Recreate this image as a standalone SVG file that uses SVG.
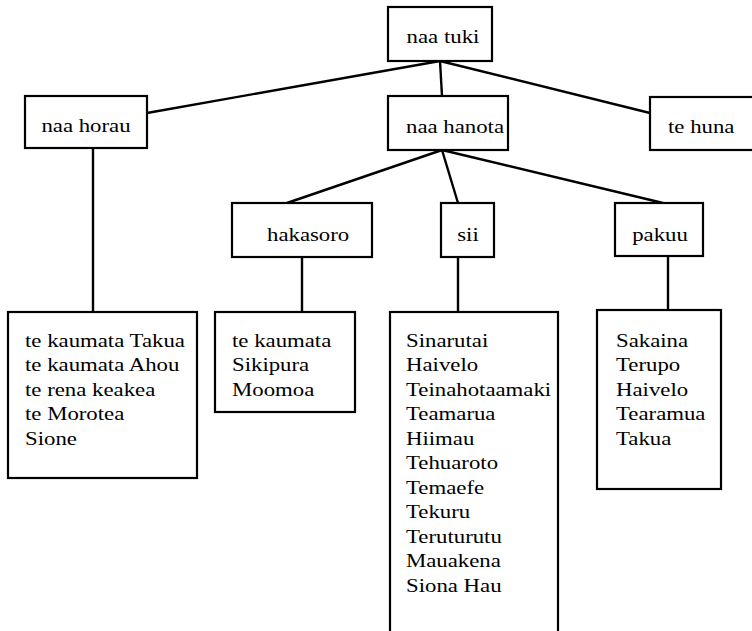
<svg xmlns="http://www.w3.org/2000/svg" width="752" height="631" viewBox="0 0 752 631">
<style>
.box{fill:#fff;stroke:#000;stroke-width:2.2}
.lbl{font-family:"Liberation Serif","Times New Roman",serif;font-size:19px;fill:#000}
.mid{text-anchor:middle}
.conn line{stroke:#000;stroke-width:2.4}
</style>
<rect width="752" height="631" fill="#fff"/>
<g class="conn" id="connectors">
<line x1="440" y1="61" x2="147" y2="113"/>
<line x1="440" y1="61" x2="442" y2="96"/>
<line x1="440" y1="61" x2="650" y2="113"/>
<line x1="93" y1="148" x2="93" y2="312"/>
<line x1="442" y1="150" x2="287" y2="203"/>
<line x1="442" y1="150" x2="458" y2="203"/>
<line x1="442" y1="150" x2="663" y2="203"/>
<line x1="302" y1="257" x2="302" y2="312"/>
<line x1="458" y1="257" x2="458" y2="312"/>
<line x1="668" y1="256" x2="668" y2="310"/>
</g>
<g id="naa-tuki"><rect class="box" x="388" y="7" width="104" height="54"/><text class="lbl mid" transform="translate(443 43) scale(1.2 1)">naa tuki</text></g>
<g id="naa-horau"><rect class="box" x="25" y="96" width="122" height="52"/><text class="lbl mid" transform="translate(86 132) scale(1.2 1)">naa horau</text></g>
<g id="naa-hanota"><rect class="box" x="388" y="96" width="120" height="54"/><text class="lbl mid" transform="translate(455 133) scale(1.2 1)">naa hanota</text></g>
<g id="te-huna"><rect class="box" x="650" y="97" width="130" height="53"/><text class="lbl" transform="translate(668 133) scale(1.2 1)">te huna</text></g>
<g id="hakasoro"><rect class="box" x="232" y="203" width="140" height="54"/><text class="lbl" transform="translate(267 241) scale(1.2 1)">hakasoro</text></g>
<g id="sii"><rect class="box" x="441" y="203" width="53" height="54"/><text class="lbl mid" transform="translate(468 241) scale(1.2 1)">sii</text></g>
<g id="pakuu"><rect class="box" x="615" y="203" width="88" height="53"/><text class="lbl mid" transform="translate(660 241) scale(1.2 1)">pakuu</text></g>
<g id="list-horau"><rect class="box" x="8" y="312" width="189" height="166"/><text class="lbl" transform="translate(25 347) scale(1.2 1)"><tspan x="0" y="0">te kaumata Takua</tspan><tspan x="0" y="24.5">te kaumata Ahou</tspan><tspan x="0" y="49">te rena keakea</tspan><tspan x="0" y="73.5">te Morotea</tspan><tspan x="0" y="98">Sione</tspan></text></g>
<g id="list-hakasoro"><rect class="box" x="215" y="312" width="140" height="100"/><text class="lbl" transform="translate(232 347) scale(1.2 1)"><tspan x="0" y="0">te kaumata</tspan><tspan x="0" y="24.5">Sikipura</tspan><tspan x="0" y="49">Moomoa</tspan></text></g>
<g id="list-sii"><rect class="box" x="390" y="312" width="168" height="330"/><text class="lbl" transform="translate(406 347) scale(1.2 1)"><tspan x="0" y="0">Sinarutai</tspan><tspan x="0" y="24.5">Haivelo</tspan><tspan x="0" y="49">Teinahotaamaki</tspan><tspan x="0" y="73.5">Teamarua</tspan><tspan x="0" y="98">Hiimau</tspan><tspan x="0" y="122.5">Tehuaroto</tspan><tspan x="0" y="147">Temaefe</tspan><tspan x="0" y="171.5">Tekuru</tspan><tspan x="0" y="196">Teruturutu</tspan><tspan x="0" y="220.5">Mauakena</tspan><tspan x="0" y="245">Siona Hau</tspan></text></g>
<g id="list-pakuu"><rect class="box" x="597" y="310" width="124" height="179"/><text class="lbl" transform="translate(616 347) scale(1.2 1)"><tspan x="0" y="0">Sakaina</tspan><tspan x="0" y="24.5">Terupo</tspan><tspan x="0" y="49">Haivelo</tspan><tspan x="0" y="73.5">Tearamua</tspan><tspan x="0" y="98">Takua</tspan></text></g>
</svg>
